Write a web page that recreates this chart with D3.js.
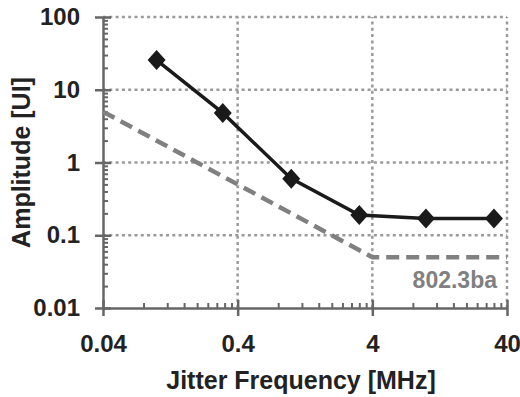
<!DOCTYPE html>
<html>
<head>
<meta charset="utf-8">
<script src="https://cdn.jsdelivr.net/npm/d3@7"></script>
<style>
body { margin: 0; background: #fff; }
text { font-family: Arial, "Liberation Sans", sans-serif; font-weight: bold; }
</style>
</head>
<body>
<div id="viz"></div>
<script>
// measured jitter tolerance (solid, diamonds)
const freq = [0.1, 0.31, 1, 3.2, 10, 32];
const amplitude = [25.6, 4.8, 0.6, 0.19, 0.17, 0.17];
// 802.3ba mask (dashed)
const maskFreq = [0.04, 4, 40];
const maskAmp = [5, 0.05, 0.05];
const maskLabel = "802.3ba";
// ticks
const xTicks = [0.04, 0.4, 4, 40];
const xTickLabels = ["0.04", "0.4", "4", "40"];
const yTicks = [0.01, 0.1, 1, 10, 100];
const yTickLabels = ["0.01", "0.1", "1", "10", "100"];

const width = 520, height = 397;
const margin = { top: 17, right: 13, bottom: 89, left: 103 };

const svg = d3.select("#viz")
    .append("svg")
    .attr("width", width)
    .attr("height", height);

const x = d3.scaleLog()
    .domain([0.04, 40])
    .range([margin.left, width - margin.right]);

const y = d3.scaleLog()
    .domain([0.01, 100])
    .range([height - margin.bottom, margin.top]);

// minor ticks: 2..9 times each decade start
const xMinor = [];
xTicks.slice(0, -1).forEach(t => { for (let k = 2; k < 10; k++) xMinor.push(t * k); });
const yMinor = [];
yTicks.slice(0, -1).forEach(t => { for (let k = 2; k < 10; k++) yMinor.push(t * k); });

const x0 = x.range()[0], x1 = x.range()[1];
const y0 = y.range()[0], y1 = y.range()[1];

// dotted grid
const grid = svg.append("g")
    .attr("stroke", "#9a9a9a")
    .attr("stroke-width", 2.5)
    .attr("stroke-dasharray", "3,3.3");

grid.selectAll(".hg")
    .data(yTicks.slice(1))
    .join("line")
    .attr("x1", x0).attr("x2", x1)
    .attr("y1", d => y(d)).attr("y2", d => y(d));

grid.selectAll(".vg")
    .data(xTicks.slice(1))
    .join("line")
    .attr("y1", y0).attr("y2", y1)
    .attr("x1", d => x(d)).attr("x2", d => x(d));

// minor ticks (inside)
const xMinorAxis = d3.axisBottom(x).tickValues(xMinor).tickSize(-5).tickFormat("");
const yMinorAxis = d3.axisLeft(y).tickValues(yMinor).tickSize(-5).tickFormat("");

svg.append("g")
    .attr("transform", `translate(0,${y0})`)
    .call(xMinorAxis)
    .call(g => g.select(".domain").remove())
    .selectAll("line").attr("stroke", "#666").attr("stroke-width", 2);

svg.append("g")
    .attr("transform", `translate(${x0},0)`)
    .call(yMinorAxis)
    .call(g => g.select(".domain").remove())
    .selectAll("line").attr("stroke", "#666").attr("stroke-width", 2);

// major axes, ticks crossing the axis line
const xAxis = d3.axisBottom(x)
    .tickValues(xTicks)
    .tickFormat((d, i) => xTickLabels[i])
    .tickSizeInner(8)
    .tickSizeOuter(0)
    .tickPadding(19);

const yAxis = d3.axisLeft(y)
    .tickValues(yTicks)
    .tickFormat((d, i) => yTickLabels[i])
    .tickSizeInner(8)
    .tickSizeOuter(0)
    .tickPadding(15);

const gx = svg.append("g")
    .attr("transform", `translate(0,${y0})`)
    .call(xAxis);
gx.selectAll("line").attr("y1", -8);

const gy = svg.append("g")
    .attr("transform", `translate(${x0},0)`)
    .call(yAxis);
gy.selectAll("line").attr("x1", 8);

[gx, gy].forEach(g => {
    g.select(".domain").attr("stroke", "#666").attr("stroke-width", 2.5);
    g.selectAll("line").attr("stroke", "#666").attr("stroke-width", 2.5);
    g.selectAll("text")
        .attr("fill", "#222")
        .style("font-size", "24px")
        .style("font-family", "Arial, 'Liberation Sans', sans-serif")
        .style("font-weight", "bold");
});

// mask line
const maskData = maskFreq.map((f, i) => ({ f, a: maskAmp[i] }));
svg.append("path")
    .datum(maskData)
    .attr("fill", "none")
    .attr("stroke", "#808080")
    .attr("stroke-width", 4.5)
    .attr("stroke-dasharray", "13,7")
    .attr("d", d3.line().x(d => x(d.f)).y(d => y(d.a)));

svg.append("text")
    .attr("x", x1 - 10)
    .attr("y", y(0.05) + 31)
    .attr("text-anchor", "end")
    .attr("fill", "#808080")
    .style("font-size", "23px")
    .text(maskLabel);

// measured line with diamonds
const meas = freq.map((f, i) => ({ f, a: amplitude[i] }));
svg.append("path")
    .datum(meas)
    .attr("fill", "none")
    .attr("stroke", "#1a1a1a")
    .attr("stroke-width", 3.5)
    .attr("d", d3.line().x(d => x(d.f)).y(d => y(d.a)));

svg.selectAll(".pt")
    .data(meas)
    .join("path")
    .attr("transform", d => `translate(${x(d.f)},${y(d.a)})`)
    .attr("d", "M0,-10L9,0L0,10L-9,0Z")
    .attr("fill", "#1a1a1a");

// axis titles
svg.append("text")
    .attr("x", 301)
    .attr("y", 389)
    .attr("text-anchor", "middle")
    .attr("fill", "#222")
    .style("font-size", "25px")
    .text("Jitter Frequency [MHz]");

svg.append("text")
    .attr("transform", `translate(30,${(y0 + y1) / 2}) rotate(-90)`)
    .attr("text-anchor", "middle")
    .attr("fill", "#222")
    .style("font-size", "25px")
    .text("Amplitude [UI]");
</script>
</body>
</html>
